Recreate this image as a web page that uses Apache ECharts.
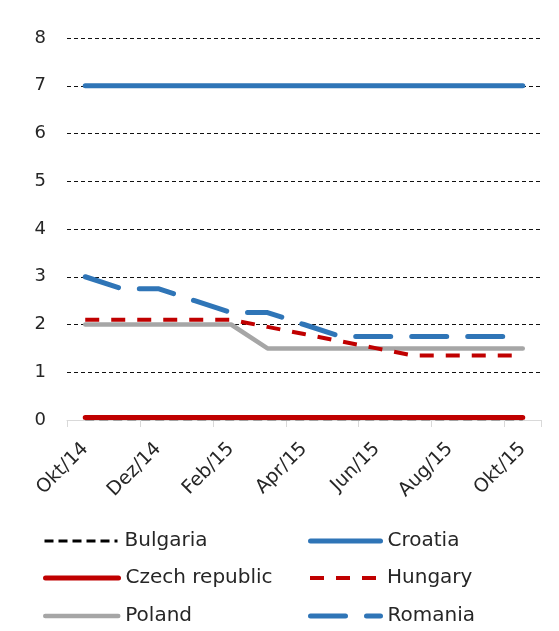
<!DOCTYPE html>
<html>
<head>
<meta charset="utf-8">
<script src="https://cdn.jsdelivr.net/npm/echarts@6/dist/echarts.min.js"></script>
<style>
  html, body { margin: 0; padding: 0; background: #fff; }
  #chart { width: 559px; height: 631px; }
</style>
</head>
<body>
<div id="chart"></div>
<script>
// Monthly policy rates (%), October 2014 – October 2015
const months = ['Okt/14', 'Nov/14', 'Dez/14', 'Jan/15', 'Feb/15', 'Mär/15', 'Apr/15',
                'Mai/15', 'Jun/15', 'Jul/15', 'Aug/15', 'Sep/15', 'Okt/15'];
const yTicks = [0, 1, 2, 3, 4, 5, 6, 7, 8];

const bulgaria = [0.02, 0.02, 0.02, 0.02, 0.02, 0.02, 0.02, 0.02, 0.02, 0.02, 0.02, 0.02, 0.02];
const czech    = [0.05, 0.05, 0.05, 0.05, 0.05, 0.05, 0.05, 0.05, 0.05, 0.05, 0.05, 0.05, 0.05];
const poland   = [2.0, 2.0, 2.0, 2.0, 2.0, 1.5, 1.5, 1.5, 1.5, 1.5, 1.5, 1.5, 1.5];
const croatia  = [7, 7, 7, 7, 7, 7, 7, 7, 7, 7, 7, 7, 7];
const hungary  = [2.1, 2.1, 2.1, 2.1, 2.1, 1.95, 1.8, 1.65, 1.5, 1.35, 1.35, 1.35, 1.35];
const romania  = [3.0, 2.75, 2.75, 2.5, 2.25, 2.25, 2.0, 1.75, 1.75, 1.75, 1.75, 1.75, 1.75];

const FONT = 'DejaVu Sans';
const TEXT = '#262626';
const BLUE = '#2f75b7';
const RED = '#c00000';
const GREY = '#a6a6a6';

// Line look of each country, shared by the plot and its legend entry
const styles = {
  'Bulgaria':       { color: '#000', width: 2.5, type: [9, 5],   cap: 'butt' },
  'Czech republic': { color: RED,    width: 5,   type: 'solid',  cap: 'round' },
  'Poland':         { color: GREY,   width: 4.5, type: 'solid',  cap: 'round' },
  'Croatia':        { color: BLUE,   width: 5,   type: 'solid',  cap: 'round' },
  'Hungary':        { color: RED,    width: 4,   type: [14, 12], cap: 'butt' },
  'Romania':        { color: BLUE,   width: 5,   type: [35, 21], cap: 'round' }
};

function line(name, data) {
  const s = styles[name];
  return {
    name, data, type: 'line', symbol: 'none', silent: true,
    lineStyle: { color: s.color, width: s.width, type: s.type, cap: s.cap },
    itemStyle: { color: s.color }
  };
}

// One legend box per entry so the two columns and three rows sit exactly
function legendItem(name, left, top, width) {
  const s = styles[name];
  return {
    left, top, orient: 'horizontal',
    itemWidth: width, itemHeight: 14, padding: 0,
    itemStyle: { opacity: 0 },
    lineStyle: { color: s.color, width: Math.max(s.width, 3), type: s.type, cap: s.cap },
    textStyle: { fontFamily: FONT, fontSize: 20, color: TEXT, padding: [0, 0, 0, 2] },
    data: [name]
  };
}

const chart = echarts.init(document.getElementById('chart'));
chart.setOption({
  animation: false,
  backgroundColor: '#fff',
  grid: { left: 67, right: 18, top: 38, bottom: 211, containLabel: false },
  xAxis: {
    type: 'category',
    data: months,
    boundaryGap: true,
    axisLine: { lineStyle: { color: '#d9d9d9', width: 1 } },
    axisTick: { show: true, interval: 1, length: 7, lineStyle: { color: '#d9d9d9' } },
    axisLabel: { interval: 1, rotate: 45, margin: 26, fontFamily: FONT, fontSize: 19, color: TEXT },
    splitLine: { show: false }
  },
  yAxis: {
    type: 'value',
    min: yTicks[0],
    max: yTicks[yTicks.length - 1],
    interval: 1,
    axisLine: { show: false },
    axisTick: { show: false },
    axisLabel: { margin: 21, fontFamily: FONT, fontSize: 18, color: TEXT },
    splitLine: { lineStyle: { color: '#111', width: 1, type: [4, 3] } }
  },
  legend: [
    legendItem('Bulgaria', 43, 531, 73),
    legendItem('Czech republic', 43, 568, 73),
    legendItem('Poland', 43, 606, 73),
    legendItem('Croatia', 308, 531, 70),
    legendItem('Hungary', 308, 568, 70),
    legendItem('Romania', 308, 606, 70)
  ],
  series: [
    line('Bulgaria', bulgaria),
    line('Czech republic', czech),
    line('Poland', poland),
    line('Croatia', croatia),
    line('Hungary', hungary),
    line('Romania', romania)
  ]
});
</script>
</body>
</html>
